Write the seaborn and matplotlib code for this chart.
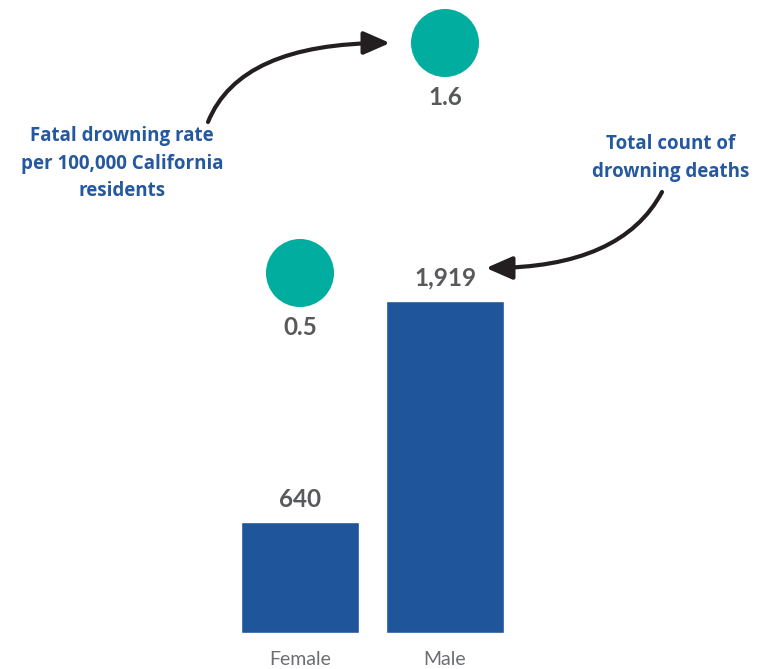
import matplotlib
matplotlib.use("Agg")
import matplotlib.pyplot as plt
import seaborn as sns
import pandas as pd
import numpy as np

# Drowning deaths in California by sex
sexes = ["Female", "Male"]
death_counts = [640, 1919]
count_labels = ["640", "1,919"]
drowning_rates = [0.5, 1.6]          # per 100,000 residents
rate_labels = ["0.5", "1.6"]

df = pd.DataFrame({
    "sex": sexes,
    "pos": np.arange(len(sexes)),
    "deaths": death_counts,
    "rate": drowning_rates,
})

BAR_BLUE = "#1f559b"
TEAL = "#00ad9f"
GREY = "#58595b"
NOTE_BLUE = "#2458a0"
ARROW = "#231f20"

sns.set_theme(style="white")
plt.rcParams["font.family"] = ["Lato", "DejaVu Sans"]

W, H = 761, 669
fig = plt.figure(figsize=(W / 100, H / 100), dpi=100)
base = 36 / H
ax = fig.add_axes([0, base, 1, 1 - base])

sns.barplot(data=df, x="pos", y="deaths", color=BAR_BLUE, width=0.81,
            saturation=1, ax=ax, native_scale=True)
ax.set_xlim(-300 / 145, (W - 300) / 145)
ax.set_ylim(0, 1919 * 633 / 332)

for i, (v, lab) in enumerate(zip(death_counts, count_labels)):
    ax.annotate(lab, xy=(i, v), xytext=(0, 16.5), textcoords="offset points",
                ha="center", va="center", fontsize=17.5, fontweight="bold",
                color=GREY)

ax.set_xticks(df["pos"])
ax.set_xticklabels(sexes, fontsize=14, fontweight="normal", color="#6d6e71")
ax.tick_params(axis="x", length=0, pad=13)
ax.set_yticks([])
ax.set_xlabel("")
ax.set_ylabel("")
for s in ax.spines.values():
    s.set_visible(False)

# rate circles on their own scale
ax2 = ax.twinx()
sns.scatterplot(data=df, x="pos", y="rate", s=2400, color=TEAL,
                edgecolor="none", ax=ax2, legend=False, zorder=3)
ax2.set_ylim(0.5 - 360 / 209.09, 1.6 + 43 / 209.09)
ax2.set_xlim(ax.get_xlim())
for i, (v, lab) in enumerate(zip(drowning_rates, rate_labels)):
    ax2.annotate(lab, xy=(i, v), xytext=(0, -39.5), textcoords="offset points",
                 ha="center", va="center", fontsize=17.5, fontweight="bold",
                 color=GREY)
ax2.set_yticks([])
ax2.set_ylabel("")
for s in ax2.spines.values():
    s.set_visible(False)

# explanatory notes
note_font = ["Open Sans", "DejaVu Sans"]
fig.text(122 / W, 1 - 164 / H,
         "Fatal drowning rate\nper 100,000 California\nresidents",
         ha="center", va="center", fontsize=13.5, fontweight="bold",
         color=NOTE_BLUE, linespacing=1.5, family=note_font)
fig.text(671 / W, 1 - 158 / H, "Total count of\ndrowning deaths",
         ha="center", va="center", fontsize=13.5, fontweight="bold",
         color=NOTE_BLUE, linespacing=1.5, family=note_font)

arrow_kw = dict(arrowstyle="-|>,head_length=0.8,head_width=0.35",
                color=ARROW, lw=3, mutation_scale=20, shrinkA=0, shrinkB=0)
fig.add_artist(matplotlib.patches.FancyArrowPatch(
    (208, H - 122), (390, H - 43), transform=None,
    connectionstyle="angle3,angleA=68,angleB=0", **arrow_kw))
fig.add_artist(matplotlib.patches.FancyArrowPatch(
    (662, H - 192), (486, H - 268), transform=None,
    connectionstyle="angle3,angleA=62,angleB=0", **arrow_kw))

fig.savefig("out.png", dpi=100, facecolor="white")
